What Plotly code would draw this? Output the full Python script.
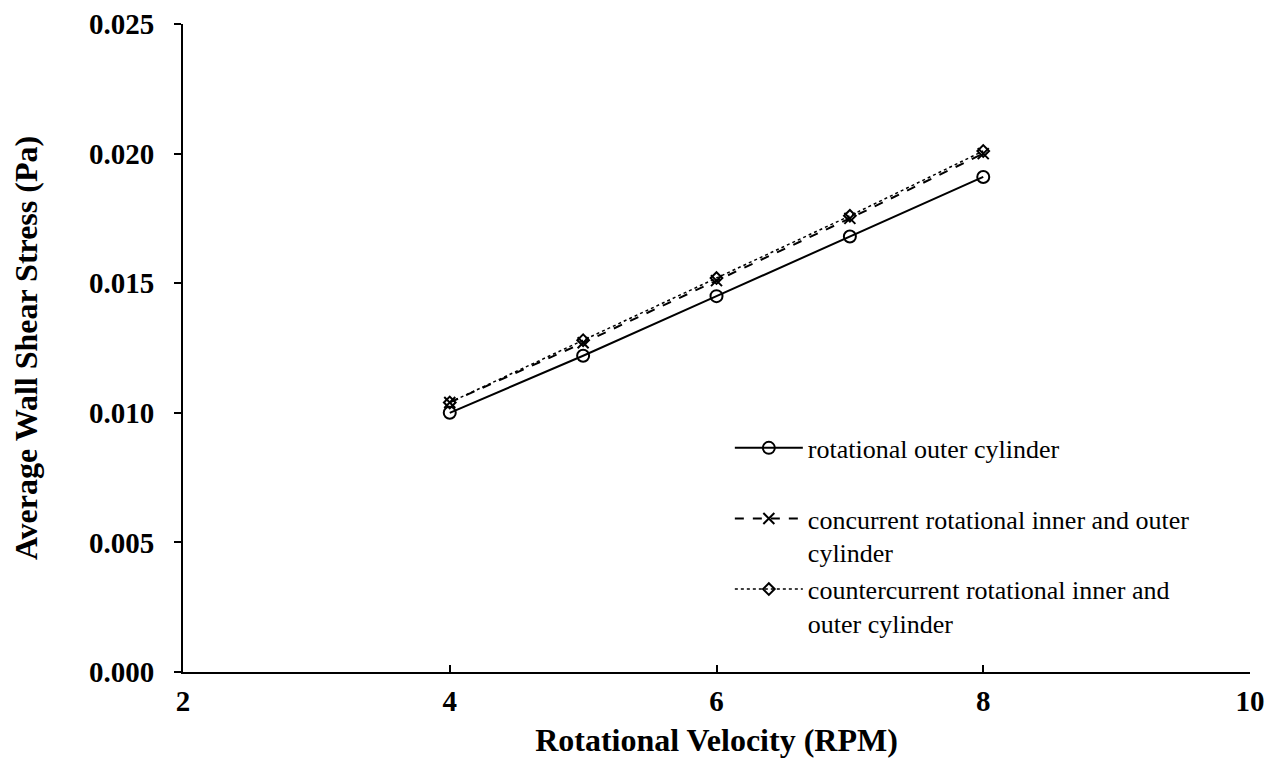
import plotly.graph_objects as go

rpm = [4, 5, 6, 7, 8]
outer = [0.0100, 0.0122, 0.0145, 0.0168, 0.0191]
concurrent = [0.0104, 0.0127, 0.0151, 0.0175, 0.0200]
countercurrent = [0.0104, 0.0128, 0.0152, 0.0176, 0.0201]
y_ticks = [0, 0.005, 0.010, 0.015, 0.020, 0.025]
x_ticks = [2, 4, 6, 8, 10]

names = [
    "rotational outer cylinder<br> ",
    "concurrent rotational inner and outer<br>cylinder",
    "countercurrent rotational inner and<br>outer cylinder",
]

fig = go.Figure()
fig.add_trace(go.Scatter(x=rpm, y=outer, name=names[0], mode="lines+markers",
                         line=dict(color="black", width=2, dash="solid"),
                         marker=dict(symbol="circle-open", size=12, color="black", line=dict(width=2))))
fig.add_trace(go.Scatter(x=rpm, y=concurrent, name=names[1], mode="lines+markers",
                         line=dict(color="black", width=2, dash="dash"),
                         marker=dict(symbol="x-thin-open", size=11, color="black", line=dict(width=2))))
fig.add_trace(go.Scatter(x=rpm, y=countercurrent, name=names[2], mode="lines+markers",
                         line=dict(color="black", width=1.5, dash="dot"),
                         marker=dict(symbol="diamond-open", size=9, color="black", line=dict(width=2))))

tick_font = dict(family="Liberation Serif", size=29, color="black", weight="bold")
title_font = dict(family="Liberation Serif", size=32, color="black", weight="bold")
fig.update_layout(
    width=1267, height=750,
    margin=dict(l=175, r=25, t=16, b=86),
    plot_bgcolor="white", paper_bgcolor="white",
    showlegend=True,
    legend=dict(x=0.5125, y=0.382, xanchor="left", yanchor="top",
                font=dict(family="Liberation Serif", size=26, color="black"),
                bgcolor="rgba(0,0,0,0)", valign="top", itemwidth=68,
                tracegroupgap=0),
    xaxis=dict(range=[2, 10], tickvals=x_ticks, ticks="inside", ticklen=7,
               tickwidth=2, tickcolor="black", showline=True, linecolor="black", linewidth=2,
               showgrid=False, zeroline=False, tickfont=tick_font, automargin=False,
               ticklabelstandoff=2, ticklabeloverflow="allow",
               title=dict(text="Rotational Velocity (RPM)", font=title_font, standoff=15)),
    yaxis=dict(range=[0, 0.025], tickvals=y_ticks, tickformat=".3f",
               ticks="outside", ticklen=7, tickwidth=2, tickcolor="black",
               showline=True, linecolor="black", linewidth=2, automargin=False,
               showgrid=False, zeroline=False, tickfont=tick_font, ticklabelstandoff=14,
               ticklabeloverflow="allow",
               title=dict(text="Average Wall Shear Stress (Pa)", font=title_font, standoff=42)),
)
fig.write_html("out.html")
